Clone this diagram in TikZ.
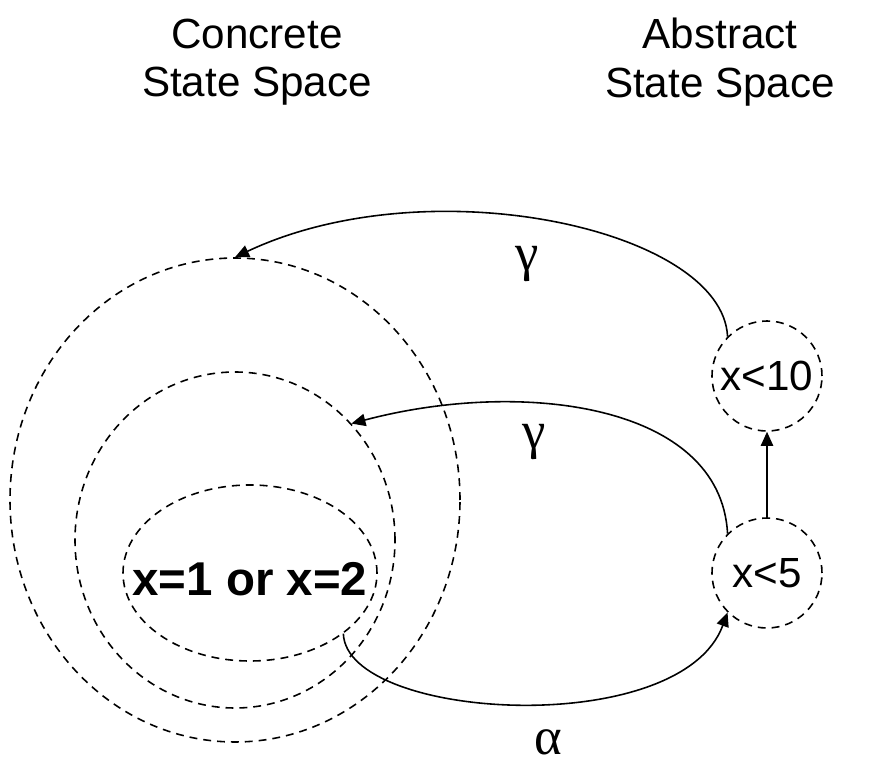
\documentclass[tikz,border=0pt]{standalone}
\usepackage{fontspec}
\setmainfont{Liberation Sans}
\newfontfamily\greekfont{Liberation Serif}
\usetikzlibrary{shapes.geometric, arrows.meta, positioning}

\begin{document}
\begin{tikzpicture}[
  region/.style={ellipse, draw, line width=0.9pt, dash pattern=on 4.5pt off 3.4pt, inner sep=0pt},
  state/.style={circle, draw, line width=0.9pt, dash pattern=on 4.5pt off 3.4pt, minimum size=2.2cm, inner sep=0pt, font=\fontsize{24}{28}\selectfont},
  title/.style={align=center, font=\fontsize{24}{27.5}\selectfont},
  greek/.style={font=\fontsize{30}{34}\greekfont},
  arrow/.style={-{Triangle[length=8pt, width=7pt]}, line width=0.9pt}
]
  \useasboundingbox (0,0) rectangle (17.74,15.26);

  % Titles
  \node[title] (concrete) at (5.14,14.02) {Concrete\\State Space};
  \node[title] (abstract) at (14.4,14.02) {Abstract\\State Space};

  % Concrete state space
  \node[region, minimum width=9.0cm, minimum height=9.68cm] (outer) at (4.70,5.26) {};
  \node[region, minimum width=6.4cm, minimum height=6.72cm] (middle) at (4.70,4.46) {};
  \node[region, minimum width=5.08cm, minimum height=3.52cm] (inner) at (5.00,3.80) {};
  \node[font=\fontsize{27}{30}\selectfont\bfseries] (values) at (5.00,3.68) {x=1 or x=2};

  % Abstract state space
  \node[state] (lt10) at (15.34,7.74) {x<10};
  \node[state] (lt5) at (15.34,3.80) {x<5};

  % Connectors
  \draw[arrow] (lt5) -- (lt10);
  \draw[arrow] (lt10.135) .. controls +(-0.1,2.14) and +(3.9,1.84) .. (outer.north);
  \draw[arrow] (lt5.135) .. controls +(-0.14,2.6) and +(3.4,0.9) .. (middle.45);
  \draw[arrow] (inner.-33) .. controls +(0.06,-1.74) and +(-0.94,-2.56) .. (lt5.225);

  % Labels
  \node[greek] (gamma1) at (10.54,9.98) {γ};
  \node[greek] (gamma2) at (10.68,6.42) {γ};
  \node[greek] (alpha) at (10.96,0.42) {α};
\end{tikzpicture}
\end{document}
